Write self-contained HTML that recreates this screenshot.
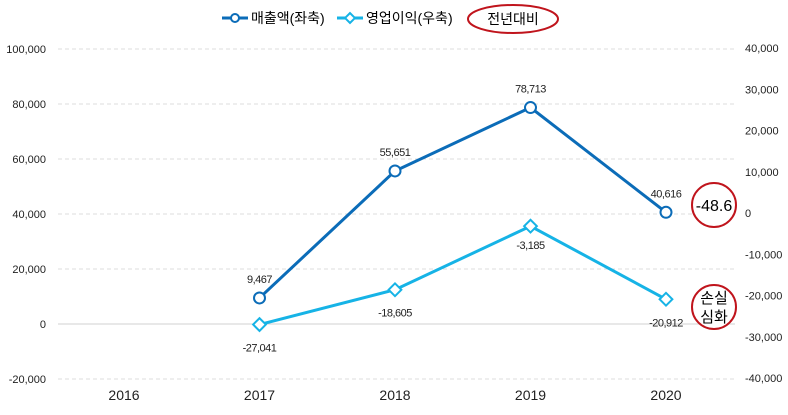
<!DOCTYPE html>
<html><head><meta charset="utf-8"><style>
body{margin:0;background:#fff;font-family:"Liberation Sans","Noto Sans CJK KR",sans-serif}
svg text{font-family:"Liberation Sans","Noto Sans CJK KR",sans-serif}
</style></head><body>
<svg id="c" width="788" height="410" xmlns="http://www.w3.org/2000/svg">
<g id="legend">
<g>
<line x1="222" y1="18" x2="248" y2="18" stroke="#0b6cb8" stroke-width="3"/>
<circle cx="235" cy="18" r="4" fill="#fff" stroke="#0b6cb8" stroke-width="2"/>
<text x="251" y="23" font-size="14">매출액(좌축)</text></g>
<g>
<line x1="337" y1="18" x2="363" y2="18" stroke="#16b3e6" stroke-width="3"/>
<rect x="346.5" y="14.5" width="7" height="7" fill="#fff" stroke="#16b3e6" stroke-width="2" transform="rotate(45 350 18)"/>
<text x="366" y="23" font-size="14">영업이익(우축)</text></g>
<g>
<ellipse cx="513" cy="19" rx="45" ry="14" fill="none" stroke="#c0141c" stroke-width="2"/>
<text x="513" y="24" font-size="14" text-anchor="middle">전년대비</text></g>
</g>
<g id="grid"></g><g id="axes"></g><g id="series"></g>
<g>
<circle cx="714" cy="205" r="22" fill="#fff" stroke="#c0141c" stroke-width="2"/>
<text x="714" y="211" font-size="16" text-anchor="middle">-48.6</text></g>
<g>
<circle cx="714" cy="307" r="22" fill="#fff" stroke="#c0141c" stroke-width="2"/>
<text x="714" y="303" font-size="15" text-anchor="middle">손실</text>
<text x="714" y="322" font-size="15" text-anchor="middle">심화</text></g>
</svg>
<script>
const years=["2016","2017","2018","2019","2020"];
const sales=[null,9467,55651,78713,40616];
const profit=[null,-27041,-18605,-3185,-20912];
const leftTicks=[100000,80000,60000,40000,20000,0,-20000];
const rightTicks=[40000,30000,20000,10000,0,-10000,-20000,-30000,-40000];
const NS="http://www.w3.org/2000/svg";
const yL=v=>324-v/20000*55;
const yR=v=>213-v/10000*41.25;
const xP=i=>124+i*135.5;
const fmt=v=>v.toLocaleString("en-US");
function mk(t,a,p){const e=document.createElementNS(NS,t);for(const k in a)e.setAttribute(k,a[k]);p.appendChild(e);return e;}
const grid=document.getElementById('grid'),axes=document.getElementById('axes'),ser=document.getElementById('series');
leftTicks.forEach(v=>{
 const l=mk('line',{x1:58,x2:735,y1:yL(v),y2:yL(v),stroke:v===0?'#d0d0d0':'#dcdcdc','stroke-dasharray':v===0?'':'4,3'},grid);
 
 
 const t=mk('text',{x:46,y:yL(v)+4,'font-size':11,'text-anchor':'end',fill:'#222'},axes);t.textContent=fmt(v);
 
 
});
rightTicks.forEach(v=>{
 const t=mk('text',{x:745,y:yR(v)+4,'font-size':11,fill:'#222'},axes);t.textContent=fmt(v);
 
 
});
years.forEach((y,i)=>{
 const t=mk('text',{x:xP(i),y:400,'font-size':14,'text-anchor':'middle',fill:'#222'},axes);t.textContent=y;
 
 
});
function draw(vals,yf,color,shape,labelOff,name){
 const pts=[];vals.forEach((v,i)=>{if(v!==null)pts.push([xP(i),yf(v),v]);});
 const pl=mk('polyline',{points:pts.map(p=>p[0]+','+p[1]).join(' '),fill:'none',stroke:color,'stroke-width':3},ser);
 
 
 pts.forEach((p,k)=>{
  let m;
  if(shape==='c')m=mk('circle',{cx:p[0],cy:p[1],r:5.5,fill:'#fff',stroke:color,'stroke-width':2},ser);
  else m=mk('rect',{x:p[0]-4.5,y:p[1]-4.5,width:9,height:9,fill:'#fff',stroke:color,'stroke-width':2,transform:`rotate(45 ${p[0]} ${p[1]})`},ser);
  
  
  const t=mk('text',{x:p[0],y:p[1]+labelOff(k),'font-size':11,'text-anchor':'middle',fill:'#222','letter-spacing':'-0.5'},ser);t.textContent=fmt(p[2]);
  
  
 });
}
draw(sales,yL,'#0b6cb8','c',()=>-15,'sales');
draw(profit,yR,'#16b3e6','d',k=>k===2?-4+27:27,'profit');
</script>
</body></html>
